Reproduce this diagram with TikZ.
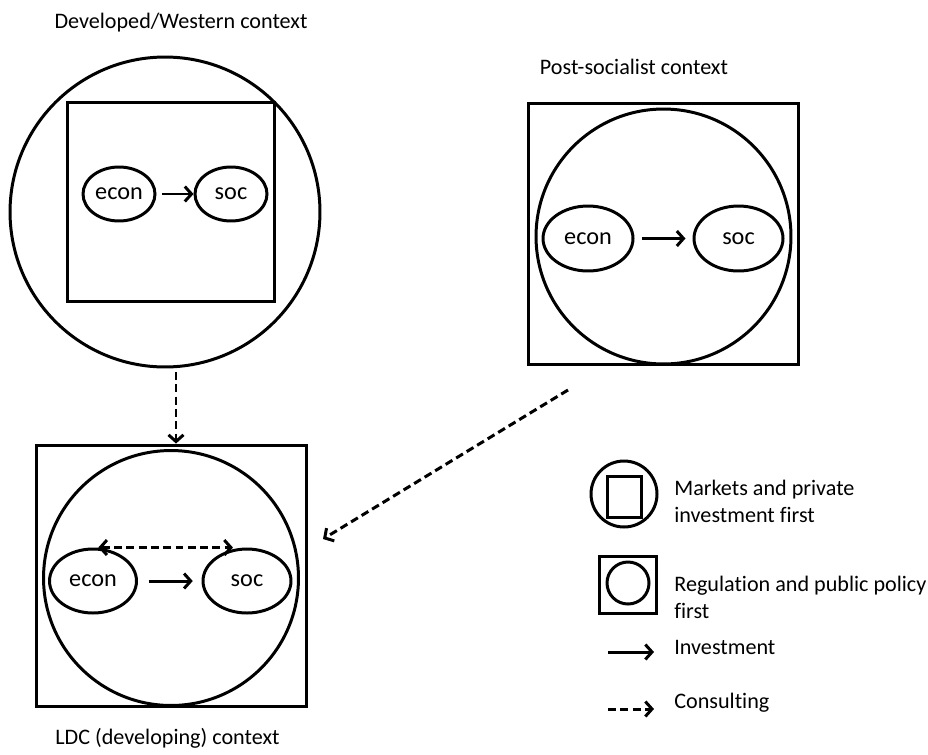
\documentclass[tikz,border=0pt]{standalone}
\usepackage{fontspec}
\setmainfont[Ligatures=NoCommon]{Carlito}
\usetikzlibrary{shapes.geometric,arrows.meta}

\begin{document}
\begin{tikzpicture}[x=0.02cm, y=-0.02cm, line width=1.7pt,
  every node/.style={font=\fontsize{12.6}{15.4}\selectfont},
  sector/.style={draw, ellipse, inner sep=0pt, font=\fontsize{13.8}{16}\selectfont},
  frame/.style={draw, rectangle, inner sep=0pt},
  ring/.style={draw, circle, inner sep=0pt},
  invest/.style={-{Straight Barb[length=3.8pt,width=8.5pt]}},
  consult/.style={invest, dash pattern=on 4.5pt off 2.5pt},
  legend/.style={anchor=west, align=left}]
\useasboundingbox (0,0) rectangle (928,754);

% developed / western
\node (devtitle) at (181,23) {Developed/Western context};
\node[ring, minimum size=6.2cm] (devcirc) at (165,212) {};
\node[frame, minimum width=4.16cm, minimum height=3.98cm] (devbox) at (171,202) {};
\node[sector, minimum width=1.44cm, minimum height=1.08cm] (devecon) at (119,194) {econ};
\node[sector, minimum width=1.44cm, minimum height=1.08cm] (devsoc) at (231,194) {soc};
\draw[invest, shorten <=3pt] (devecon) -- (devsoc);

% post-socialist
\node (posttitle) at (634,67) {Post-socialist context};
\node[frame, minimum width=5.42cm, minimum height=5.24cm] (postbox) at (663.5,234) {};
\node[ring, minimum size=5.1cm] (postcirc) at (663.5,236.5) {};
\node[sector, minimum width=1.8cm, minimum height=1.3cm] (postecon) at (588,238.5) {econ};
\node[sector, minimum width=1.78cm, minimum height=1.3cm] (postsoc) at (738.5,238.5) {soc};
\draw[invest, shorten <=4pt, shorten >=4pt] (postecon) -- (postsoc);

% LDC
\node (ldctitle) at (167.5,738) {LDC (developing) context};
\node[frame, minimum width=5.42cm, minimum height=5.24cm] (ldcbox) at (171.5,576) {};
\node[ring, minimum size=5.1cm] (ldccirc) at (171,578) {};
\node[sector, minimum width=1.74cm, minimum height=1.28cm] (ldcecon) at (93,581) {econ};
\node[sector, minimum width=1.76cm, minimum height=1.28cm] (ldcsoc) at (247,581) {soc};
\draw[invest, shorten <=6pt, shorten >=5pt] (ldcecon) -- (ldcsoc);
\draw[consult, {Straight Barb[length=3.8pt,width=8.5pt]}-{Straight Barb[length=3.8pt,width=8.5pt]}]
  ([xshift=3pt]ldcecon.north) -- ([xshift=-8pt]ldcsoc.north);

% consulting flows
\coordinate (devout) at (176,372);
\coordinate (postout) at (568,390);
\coordinate (ldcin) at (323,539);
\draw[consult] (devout) -- (ldcbox.north -| devout);
\draw[consult] (postout) -- (ldcin);

% legend
\node[ring, minimum size=1.32cm] (keycirc) at (624,494) {};
\node[frame, minimum width=0.68cm, minimum height=0.82cm] (keyinbox) at (624,496.5) {};
\node[legend] (keymarket) at (667,501.5) {Markets and private\\investment first};
\node[frame, minimum size=1.14cm] (keybox) at (627.5,584.5) {};
\node[ring, minimum size=0.84cm] (keyincirc) at (628,583) {};
\node[legend] (keyregul) at (667,597.5) {Regulation and public policy\\first};
\coordinate (keyinvA) at (608,652);
\coordinate (keyinvB) at (654,652);
\draw[invest] (keyinvA) -- (keyinvB);
\node[legend] (keyinvest) at (667,647) {Investment};
\coordinate (keyconA) at (608,709);
\coordinate (keyconB) at (654,709);
\draw[consult] (keyconA) -- (keyconB);
\node[legend] (keyconsult) at (667,703) {Consulting};
\end{tikzpicture}
\end{document}
